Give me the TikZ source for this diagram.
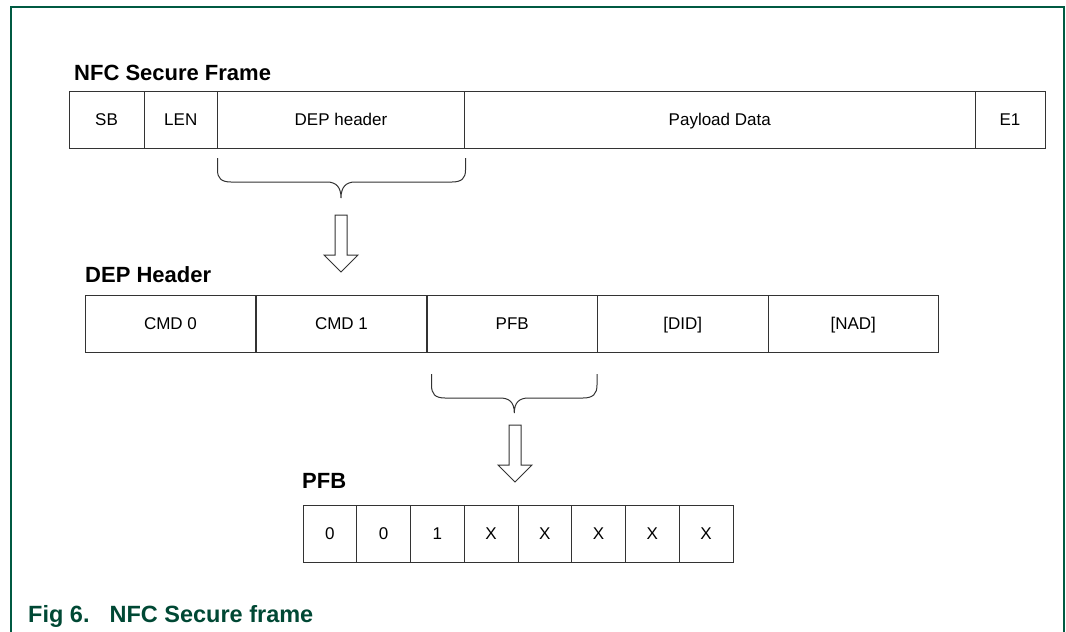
\documentclass[tikz,border=0pt]{standalone}
\usepackage{fontspec}
\setmainfont{Liberation Sans}
\definecolor{nxpgreen}{RGB}{0,90,66}
\definecolor{capgreen}{RGB}{0,72,52}
\begin{document}
\begin{tikzpicture}
[x=1pt,y=-1pt,
  cellDecorate/.style={shape=rectangle,draw=black!80,line width=1pt,inner sep=0pt,
    minimum height=57pt,text height=12.2pt,text depth=0pt,font=\fontsize{17}{20}\selectfont},
  titleDecorate/.style={anchor=base west,inner sep=0pt,font=\fontsize{22}{26}\selectfont\bfseries},
  braceDecorate/.style={draw=black!80,line width=1pt},
  arrowDecorate/.style={draw=black!80,line width=1pt,fill=white,line join=miter},
  frameDecorate/.style={draw=nxpgreen,line width=2pt}]
\useasboundingbox (0,0) rectangle (1066,632);
%% outer frame
\draw[frameDecorate] (10.7,632) -- (10.7,7.3) -- (1064,7.3) -- (1064,632);
%% titles
\node (titleframe) at (74,80) [titleDecorate] {NFC Secure Frame};
\node (titledep) at (85,282) [titleDecorate] {DEP Header};
\node (titlepfb) at (302,488) [titleDecorate] {PFB};
%% secure frame cells
\foreach \nodename/\x/\w/\txt in {
  sb/106.5/75/SB, len/180.75/73.5/LEN, dephdr/341/247/DEP header,
  payload/719.75/510.5/Payload Data, eone/1010/70/E1}
{
  \node (\nodename) at (\x,119.5) [cellDecorate,minimum width=\w pt] {\txt};
}
%% DEP header cells
\foreach \nodename/\x/\txt in {
  cmdzero/170.5/CMD 0, cmdone/341.5/CMD 1, pfb/512.25/PFB,
  did/682.75/[DID], nad/853.25/[NAD]}
{
  \node (\nodename) at (\x,323.75) [cellDecorate,minimum width=170.5pt] {\txt};
}
%% PFB bits
\foreach \bit [count=\i] in {0,0,1,X,X,X,X,X}
{
  \node (bit\i) at ({303+53.75*(\i-0.5)},533.5) [cellDecorate,minimum width=53.75pt] {\bit};
}
%% braces
\draw[braceDecorate] (217.5,158) -- (217.5,170) .. controls (217.5,178) and (221,182) .. (231,182)
  -- (327,182) .. controls (336,182) and (341,187) .. (341,198)
  .. controls (341,187) and (346,182) .. (355,182) -- (452,182)
  .. controls (462,182) and (465.5,178) .. (465.5,170) -- (465.5,158);
\draw[braceDecorate] (431.5,374) -- (431.5,385) .. controls (431.5,394) and (435,398) .. (445,398)
  -- (500,398) .. controls (509,398) and (514.3,402) .. (514.3,413)
  .. controls (514.3,402) and (519.6,398) .. (528.6,398) -- (583,398)
  .. controls (593,398) and (597,394) .. (597,385) -- (597,374);
%% hollow arrows
\foreach \ax/\ay in {341/215, 515/425}
{
  \draw[arrowDecorate,shift={(\ax,\ay)}] (-6,0) -- (6,0) -- (6,40) -- (17,40) -- (0,57)
    -- (-17,40) -- (-6,40) -- cycle;
}
%% caption
\node (caption) at (28,622.7) [titleDecorate,text=capgreen,font=\fontsize{23.5}{27}\selectfont\bfseries]
  {Fig 6.\hspace{20pt}NFC Secure frame};
\end{tikzpicture}
\end{document}
